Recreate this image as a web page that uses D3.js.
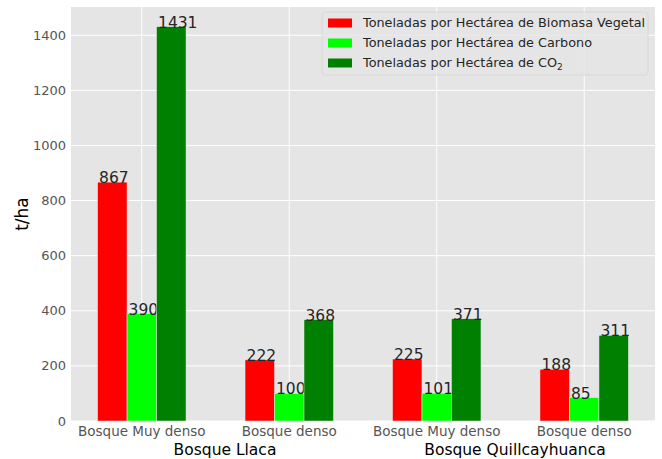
<!DOCTYPE html>
<html><head><meta charset="utf-8">
<script src="https://cdn.jsdelivr.net/npm/d3@7"></script>
<style>body{margin:0;background:#fff;}svg{display:block;font-family:"DejaVu Sans",sans-serif;}</style>
</head><body>
<svg id="c" width="662" height="459"></svg>
<script>
const categories = ["Bosque Muy denso", "Bosque denso", "Bosque Muy denso", "Bosque denso"];
const groups = ["Bosque Llaca", "Bosque Quillcayhuanca"];
const seriesNames = ["Toneladas por Hectárea de Biomasa Vegetal", "Toneladas por Hectárea de Carbono", "Toneladas por Hectárea de CO"];
const biomasa = [867, 222, 225, 188];
const carbono = [390, 100, 101, 85];
const co2 = [1431, 368, 371, 311];
const yTicks = [0, 200, 400, 600, 800, 1000, 1200, 1400];
const colors = ["#ff0000", "#00ff00", "#008000"];
const series = [biomasa, carbono, co2];

const svg = d3.select("#c");
const L = 71, R = 655, T = 7, B = 421;
const x = d3.scaleLinear().domain([-0.48, 3.48]).range([L, R]);
const y = d3.scaleLinear().domain([0, 1502.5]).range([B, T]);
const bw = 0.2;

svg.append("rect").attr("x", L).attr("y", T).attr("width", R - L).attr("height", B - T).attr("fill", "#e5e5e5");

// grid
svg.append("g").selectAll("line").data(yTicks).join("line")
  .attr("x1", L).attr("x2", R).attr("y1", d => y(d)).attr("y2", d => y(d))
  .attr("stroke", "#fff").attr("stroke-width", 1);
svg.append("g").selectAll("line").data(categories.map((c, i) => i)).join("line")
  .attr("y1", T).attr("y2", B).attr("x1", d => x(d)).attr("x2", d => x(d))
  .attr("stroke", "#fff").attr("stroke-width", 1);

// bars
series.forEach((s, si) => {
  const off = (si - 1) * bw;
  const g = svg.append("g");
  g.selectAll("rect").data(s).join("rect")
    .attr("x", (d, i) => x(i + off - bw / 2))
    .attr("width", x(bw) - x(0))
    .attr("y", d => y(d))
    .attr("height", d => B - y(d))
    .attr("fill", colors[si])
    .attr("stroke", "#eeeeee").attr("stroke-width", 0.5);
  g.selectAll("text").data(s).join("text")
    .attr("x", (d, i) => x(i + off - bw / 2) + 1.5)
    .attr("y", d => y(d) + 1)
    .attr("font-size", 15.5).attr("fill", "#262626")
    .text(d => d);
});

// y axis ticks
svg.append("g").selectAll("text").data(yTicks).join("text")
  .attr("x", 66).attr("y", d => y(d)).attr("dy", "0.35em")
  .attr("text-anchor", "end").attr("font-size", 13).attr("fill", "#555")
  .text(d => d);
svg.append("text").attr("transform", `translate(28,${(T + B) / 2}) rotate(-90)`)
  .attr("text-anchor", "middle").attr("font-size", 17).attr("fill", "#000").text("t/ha");

// x ticks
svg.append("g").selectAll("text").data(categories).join("text")
  .attr("x", (d, i) => x(i)).attr("y", 431.5).attr("dy", "0.35em")
  .attr("text-anchor", "middle").attr("font-size", 13.5).attr("fill", "#555")
  .text(d => d);
const groupX = [225, 515];
svg.append("g").selectAll("text").data(groups).join("text")
  .attr("x", (d, i) => groupX[i]).attr("y", 455)
  .attr("text-anchor", "middle").attr("font-size", 15.5).attr("fill", "#000")
  .text(d => d);

// legend
const lg = svg.append("g");
lg.append("rect").attr("x", 322).attr("y", 12).attr("width", 326).attr("height", 63).attr("rx", 3)
  .attr("fill", "#e5e5e5").attr("fill-opacity", 0.8).attr("stroke", "#d6d6d6").attr("stroke-width", 0.8);
seriesNames.forEach((n, i) => {
  const yy = 23 + i * 20;
  lg.append("rect").attr("x", 328).attr("y", yy - 4.5).attr("width", 24).attr("height", 9).attr("fill", colors[i]);
  const t = lg.append("text").attr("x", 363).attr("y", yy).attr("dy", "0.35em")
    .attr("font-size", 12.8).attr("fill", "#262626").text(n);
  if (i === 2) t.append("tspan").attr("font-size", 9).attr("dy", "0.3em").text("2");
});
</script>
</body></html>
